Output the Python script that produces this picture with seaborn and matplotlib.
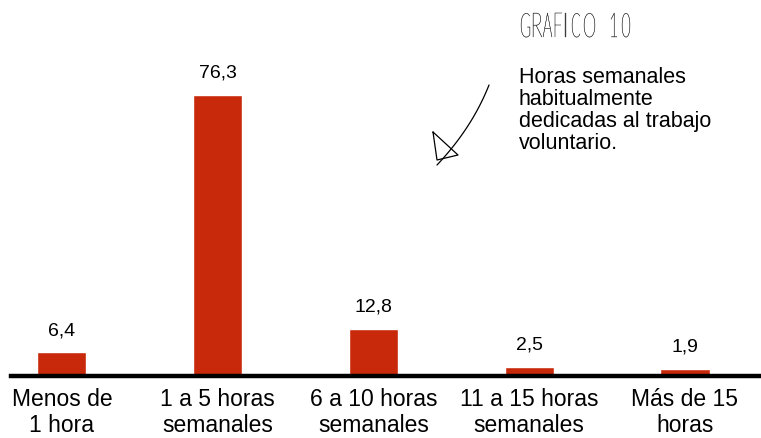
import numpy as np
import matplotlib.pyplot as plt
import seaborn as sns
from matplotlib.textpath import TextPath
from matplotlib.patches import PathPatch
from matplotlib.font_manager import FontProperties
from matplotlib.transforms import Affine2D

categorias = ['Menos de\n1 hora', '1 a 5 horas\nsemanales', '6 a 10 horas\nsemanales',
              '11 a 15 horas\nsemanales', 'Más de 15\nhoras']
valores = [6.4, 76.3, 12.8, 2.5, 1.9]
etiquetas = ['6,4', '76,3', '12,8', '2,5', '1,9']

sns.set_style('white')
plt.rcParams['font.family'] = ['Liberation Sans', 'DejaVu Sans']
plt.rcParams['text.color'] = 'black'

fig = plt.figure(figsize=(7.61, 4.38), dpi=100)
ax = fig.add_axes([11 / 761, 62 / 438, 750 / 761, 376 / 438])

sns.barplot(x=categorias, y=valores, color='#c8290a', width=0.315, ax=ax, saturation=1)

ax.set_xlim(-0.327, 4.488)
ax.set_ylim(0, 102.1)
ax.set_yticks([])
ax.set_xlabel('')
ax.tick_params(axis='x', length=0, pad=9, labelsize=16.5, labelcolor='black')
for lbl in ax.get_xticklabels():
    lbl.set_linespacing(1.12)
for s in ['top', 'right', 'left']:
    ax.spines[s].set_visible(False)
ax.spines['bottom'].set_linewidth(3.2)
ax.spines['bottom'].set_color('black')
ax.spines['bottom'].set_zorder(5)

for i, (v, t) in enumerate(zip(valores, etiquetas)):
    ax.text(i, v + 3.6, t, ha='center', va='bottom', fontsize=14, color='black')

# capa en pixeles para las anotaciones
ov = fig.add_axes([0, 0, 1, 1])
ov.set_xlim(0, 761)
ov.set_ylim(438, 0)
ov.axis('off')
ov.patch.set_alpha(0)

# titulo estilo manuscrito, letras estrechas
fp = FontProperties(family=['Lato', 'DejaVu Sans'], weight='light')
letras = ['G', 'R', 'A', 'F', 'I', 'C', 'O', '1', '0']
xs = [521, 533, 543, 555, 565, 572, 584, 611, 622]
ws = [9, 9, 9, 7, 2.5, 8, 11, 6, 8]
for ch, x0, w in zip(letras, xs, ws):
    tp = TextPath((0, 0), ch, size=40, prop=fp)
    ext = tp.get_extents()
    sx = w / max(ext.width, 1)
    sy = 24 / ext.height
    tr = Affine2D().translate(-ext.x0, 0).scale(sx, -sy).translate(x0, 37)
    ov.add_patch(PathPatch(tr.transform_path(tp), facecolor='#3c3c3c',
                           edgecolor='#3c3c3c', lw=0.25))

ov.text(519, 67, 'Horas semanales\nhabitualmente\ndedicadas al trabajo\nvoluntario.',
        ha='left', va='top', fontsize=15.5, linespacing=1.07, color='black')

# flecha dibujada a mano
t = np.linspace(0, 1, 50)
p0, p1, p2 = np.array([489, 85]), np.array([472, 128]), np.array([437, 165])
curva = (1 - t)[:, None] ** 2 * p0 + 2 * ((1 - t) * t)[:, None] * p1 + (t ** 2)[:, None] * p2
ov.plot(curva[:, 0], curva[:, 1], color='black', lw=0.9)
ov.plot([433, 458, 437, 433], [132, 155, 160, 132], color='black', lw=0.9)

fig.savefig('out.png', dpi=100)
